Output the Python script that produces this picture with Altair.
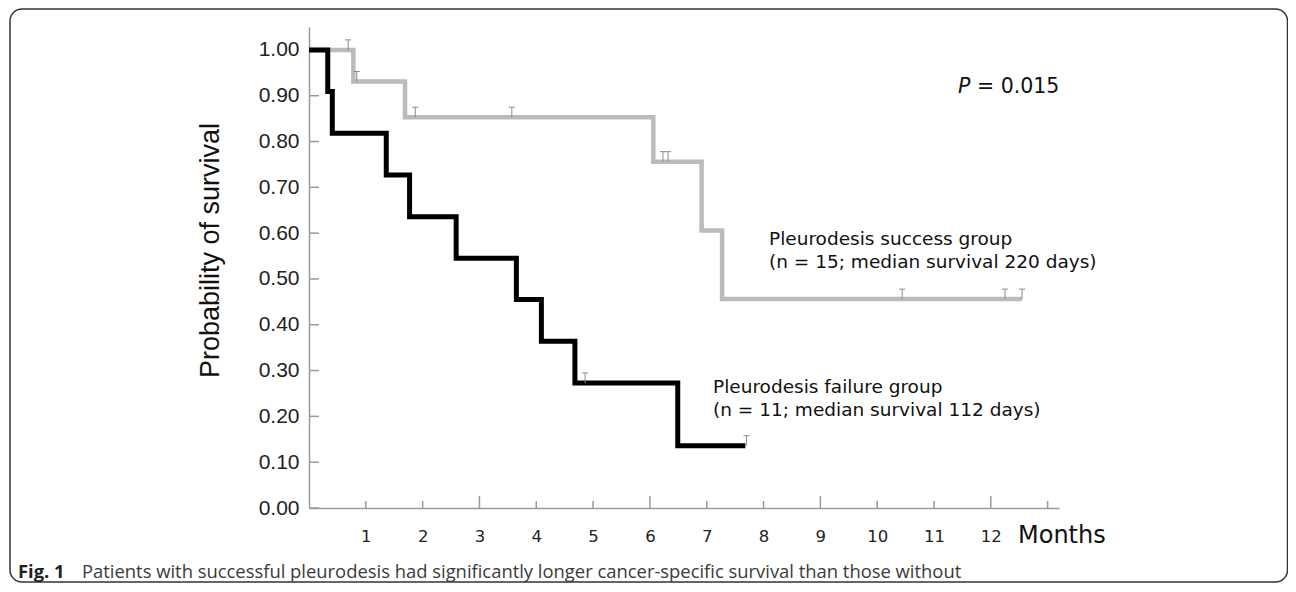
import altair as alt
import pandas as pd

# Kaplan-Meier step data (months, survival probability)
fail_t = [0, 0.33, 0.41, 1.36, 1.77, 2.59, 3.65, 4.09, 4.68, 6.49, 7.68]
fail_s = [1.0, 0.909, 0.818, 0.727, 0.636, 0.545, 0.455, 0.364, 0.273, 0.136, 0.136]
succ_t = [0, 0.78, 1.69, 6.06, 6.91, 7.27, 12.55]
succ_s = [1.0, 0.931, 0.853, 0.756, 0.606, 0.456, 0.456]

# censored observations
fail_cens_t = [4.86, 7.70]
fail_cens_s = [0.273, 0.136]
succ_cens_t = [0.69, 0.84, 1.87, 3.57, 6.23, 6.32, 10.44, 12.25, 12.55]
succ_cens_s = [1.0, 0.931, 0.853, 0.853, 0.756, 0.756, 0.456, 0.456, 0.456]

# axis ticks
x_labels = [1, 2, 3, 4, 5, 6, 7, 8, 9, 10, 11, 12]
x_ticks = [1, 2, 3, 4, 5, 6, 7, 8, 9, 10, 11, 12, 13]
x_major = [3, 6, 9, 12]
y_ticks = [0.0, 0.1, 0.2, 0.3, 0.4, 0.5, 0.6, 0.7, 0.8, 0.9, 1.0]

W, H = 750, 481

fail_df = pd.DataFrame({"t": fail_t, "s": fail_s})
succ_df = pd.DataFrame({"t": succ_t, "s": succ_s})
cens_df = pd.DataFrame({"t": fail_cens_t + succ_cens_t, "s": fail_cens_s + succ_cens_s})
xminor_df = pd.DataFrame({"t": [v for v in x_ticks if v not in x_major]})
xmajor_df = pd.DataFrame({"t": x_major})
ytick_df = pd.DataFrame({"s": y_ticks})
one = pd.DataFrame({"a": [0]})

xscale = alt.Scale(domain=[0, 13.2], nice=False, zero=False)
yscale = alt.Scale(domain=[0, 1.05], nice=False)
xaxis = alt.Axis(values=x_labels, format="d", ticks=False, grid=False,
                 domainColor="#9a9a9a", domainWidth=1.5,
                 labelFont="DejaVu Sans", labelFontSize=16.5, labelColor="#222222",
                 labelPadding=20, labelFlush=False, title=None)
yaxis = alt.Axis(values=y_ticks, format=".2f", ticks=False, grid=False,
                 domainColor="#9a9a9a", domainWidth=1.5,
                 labelFont="Liberation Sans", labelFontSize=21, labelColor="#222222",
                 labelPadding=10,
                 title="Probability of survival", titleFont="Liberation Sans",
                 titleFontSize=27, titleFontWeight="normal", titleColor="#111111",
                 titleAngle=270, titleX=-91, titleY=223, titleAlign="center",
                 titleBaseline="alphabetic")

X = alt.X("t:Q", scale=xscale, axis=xaxis)
Y = alt.Y("s:Q", scale=yscale, axis=yaxis)

frame = alt.Chart(one).mark_rect(fillOpacity=0, stroke="#333333", strokeWidth=1.5,
                                 cornerRadius=12).encode(
    x=alt.value(-299), x2=alt.value(978.5), y=alt.value(-18), y2=alt.value(555))

succ_line = alt.Chart(succ_df).mark_line(interpolate="step-after", color="#bbbbbb",
                                          strokeWidth=4.5, strokeJoin="miter",
                                          strokeCap="butt").encode(x=X, y=Y)
fail_line = alt.Chart(fail_df).mark_line(interpolate="step-after", color="#000000",
                                          strokeWidth=5, strokeJoin="miter",
                                          strokeCap="butt").encode(x=X, y=Y)

censor_shape = "M-0.3,-1L0.3,-1M0,-1L0,0"
censors = alt.Chart(cens_df).mark_point(shape=censor_shape, size=400, filled=False,
                                        stroke="#8a8a8a", strokeWidth=1,
                                        opacity=1).encode(x=X, y=Y)

ytick = alt.Chart(ytick_df).mark_rule(color="#9a9a9a", strokeWidth=1.5).encode(
    y=Y, x=alt.value(0), x2=alt.value(10))
xminor = alt.Chart(xminor_df).mark_rule(color="#9a9a9a", strokeWidth=1.5).encode(
    x=X, y=alt.value(H), y2=alt.value(H - 7))
xmajor = alt.Chart(xmajor_df).mark_rule(color="#9a9a9a", strokeWidth=1.5).encode(
    x=X, y=alt.value(H), y2=alt.value(H - 12))


def label(txt, x, y, size=18.5, font="DejaVu Sans", style="normal", weight="normal",
          color="#111111"):
    return alt.Chart(one).mark_text(align="left", baseline="middle", font=font,
                                    fontSize=size, fontStyle=style, fontWeight=weight,
                                    color=color).encode(
        x=alt.value(x), y=alt.value(y), text=alt.value(txt))


texts = [
    label("Pleurodesis success group", 460, 212),
    label("(n = 15; median survival 220 days)", 460, 234.5),
    label("Pleurodesis failure group", 404, 360),
    label("(n = 11; median survival 112 days)", 404, 382.5),
    label("P", 649, 60, size=20.5, style="italic"),
    label("= 0.015", 668, 60, size=20.5),
    label("Months", 709, 509, size=24),
    label("Fig. 1", -291, 545, size=18.4, font="Open Sans", weight="bold",
          color="#222222"),
    label("Patients with successful pleurodesis had significantly longer cancer-specific survival than those without",
          -227, 545, size=18.4, font="Open Sans", color="#3a3a3a"),
]

chart = alt.layer(frame, ytick, xminor, xmajor, succ_line, fail_line, censors,
                  *texts).properties(
    width=W, height=H,
    autosize=alt.AutoSizeParams(type="none"),
    padding={"left": 301, "top": 19, "right": 229, "bottom": 76},
    background="white",
).configure_view(strokeWidth=0)

chart.save("out.html", embed_options={"renderer": "svg", "actions": False})
